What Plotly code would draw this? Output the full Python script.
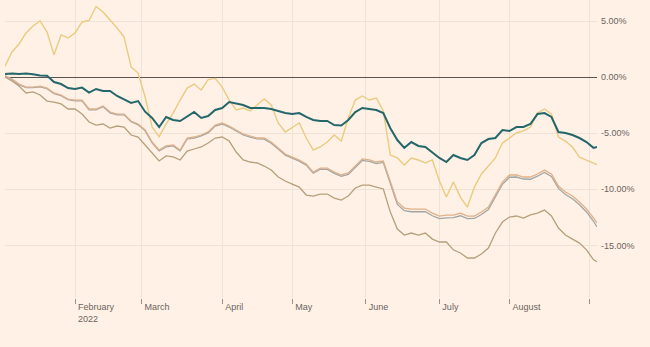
import pandas as pd
import plotly.graph_objects as go

# US market holidays in the period (closed days, removed from the time axis)
HOLIDAYS = ["2022-01-17", "2022-02-21", "2022-04-15", "2022-05-30",
            "2022-06-20", "2022-07-04", "2022-09-05"]

trading_days = pd.bdate_range("2022-01-03", "2022-09-06", freq="C", holidays=HOLIDAYS)
# every second session plus the final one
dates = list(trading_days[::2]) + [trading_days[-1]]

# cumulative performance, %
teal = [0.29, 0.34, 0.29, 0.34, 0.27, 0.16, 0.13, -0.42, -0.6, -0.96,
        -1.05, -0.92, -1.36, -1.04, -1.22, -1.22, -1.67, -1.98, -2.29, -2.12,
        -3.07, -3.63, -4.44, -3.54, -3.81, -3.9, -3.46, -3.1, -3.63, -3.46,
        -2.92, -2.74, -2.21, -2.34, -2.47, -2.74, -2.74, -2.74, -2.83, -3.01,
        -3.19, -3.28, -3.19, -3.54, -3.81, -3.9, -3.9, -4.26, -4.3, -3.81,
        -3.1, -2.74, -2.83, -2.92, -3.19, -4.55, -5.6, -6.3, -5.78, -6.13,
        -6.22, -6.67, -7.2, -7.56, -6.94, -7.2, -7.38, -6.94, -5.87, -5.51,
        -5.42, -4.71, -4.8, -4.44, -4.44, -4.17, -3.28, -3.19, -3.54, -4.88,
        -4.97, -5.15, -5.42, -5.78, -6.3, -6.22]

gold = [1.0, 2.26, 2.97, 3.96, 4.58, 5.03, 4.04, 2.01, 3.78, 3.51,
        3.96, 4.94, 5.07, 6.32, 5.83, 5.12, 4.4, 3.6, 0.92, 0.38,
        -1.76, -4.44, -5.3, -4.17, -3.19, -2.03, -0.96, -0.6, -1.13, -0.2,
        -0.1, -0.87, -2.03, -2.92, -2.74, -3.0, -2.47, -1.94, -2.47, -4.08,
        -4.88, -4.44, -4.08, -5.42, -6.49, -6.22, -5.78, -5.15, -5.69, -3.63,
        -2.03, -1.67, -2.03, -1.85, -3.0, -6.94, -7.2, -7.83, -7.2, -7.38,
        -7.65, -7.38, -9.26, -10.69, -9.35, -10.69, -11.58, -9.8, -8.63, -7.92,
        -7.2, -5.87, -5.42, -4.97, -4.79, -4.44, -3.19, -2.83, -3.28, -5.33,
        -5.69, -6.22, -7.12, -7.38, -7.7, -7.8]

mid_orange = [0.16, -0.15, -0.6, -0.87, -0.87, -0.78, -0.96, -1.4, -1.58, -1.94,
              -2.03, -2.03, -2.83, -2.83, -2.56, -3.1, -3.28, -3.28, -3.9, -4.17,
              -4.7, -5.78, -6.49, -6.13, -6.04, -6.49, -5.42, -5.33, -5.15, -4.88,
              -4.26, -4.08, -4.35, -4.7, -5.06, -5.24, -5.42, -5.42, -5.78, -6.31,
              -6.85, -7.12, -7.38, -7.74, -8.46, -8.1, -8.1, -8.46, -8.72, -8.54,
              -7.92, -7.29, -7.38, -7.56, -7.47, -9.35, -11.13, -11.67, -11.76, -11.76,
              -11.76, -12.12, -12.39, -12.3, -12.3, -12.12, -12.39, -12.39, -12.03, -11.58,
              -10.42, -9.35, -8.72, -8.72, -8.9, -8.9, -8.63, -8.28, -8.63, -9.7,
              -10.24, -10.6, -11.13, -11.76, -12.56, -13.0]

mid_grey = [0.1, -0.2, -0.65, -0.92, -0.93, -0.85, -1.02, -1.47, -1.64, -2.0,
            -2.1, -2.1, -2.9, -2.9, -2.63, -3.17, -3.35, -3.35, -3.97, -4.24,
            -4.78, -5.86, -6.58, -6.22, -6.12, -6.57, -5.5, -5.42, -5.23, -4.96,
            -4.35, -4.17, -4.44, -4.78, -5.15, -5.33, -5.5, -5.52, -5.88, -6.4,
            -6.95, -7.22, -7.48, -7.84, -8.56, -8.2, -8.22, -8.58, -8.84, -8.66,
            -8.04, -7.42, -7.5, -7.7, -7.6, -9.55, -11.35, -11.9, -12.0, -12.0,
            -12.0, -12.36, -12.62, -12.55, -12.52, -12.36, -12.62, -12.6, -12.25, -11.8,
            -10.62, -9.55, -8.92, -8.9, -9.08, -9.1, -8.83, -8.5, -8.85, -9.92,
            -10.46, -10.84, -11.38, -12.02, -12.85, -13.35]

lower = [0.03, -0.33, -0.78, -1.4, -1.31, -1.58, -2.12, -2.21, -2.38, -2.83,
         -2.83, -3.28, -3.99, -4.26, -4.17, -4.53, -4.35, -4.44, -5.15, -5.33,
         -6.04, -6.76, -7.47, -7.02, -7.1, -7.38, -6.58, -6.4, -6.22, -5.87,
         -5.42, -5.33, -5.69, -6.67, -7.38, -7.56, -7.65, -7.92, -8.28, -8.9,
         -9.26, -9.53, -9.8, -10.51, -10.6, -10.42, -10.42, -10.78, -10.96, -10.6,
         -9.88, -9.62, -9.62, -9.8, -9.97, -12.03, -13.54, -14.08, -13.9, -14.08,
         -13.9, -14.44, -14.7, -14.7, -15.4, -15.68, -16.13, -16.13, -15.78, -15.24,
         -13.9, -12.92, -12.47, -12.38, -12.56, -12.29, -12.12, -11.85, -12.38, -13.45,
         -14.08, -14.44, -14.8, -15.4, -16.29, -16.47]

y_ticks = [5, 0, -5, -10, -15]
y_tick_text = ["5.00%", "0.00%", "-5.00%", "-10.00%", "-15.00%"]
x_ticks = ["2022-02-01", "2022-03-01", "2022-04-01", "2022-05-02",
           "2022-06-01", "2022-07-01", "2022-08-01", "2022-09-01"]
x_tick_text = ["February<br>2022", "March", "April", "May",
               "June", "July", "August", ""]

BG = "#fff1e5"
GRID = "#efe2d6"
FONT = "Liberation Sans, Arial, sans-serif"
NBSP = "\u00a0"

# small gap between each tick mark and its label
x_labels = ["<br>".join(NBSP + part if part else part for part in t.split("<br>"))
            for t in x_tick_text]

series = [
    (lower, "#b6a07b", 1.3),
    (mid_grey, "#a0a6a6", 1.3),
    (mid_orange, "#e0b089", 1.3),
    (gold, "#eacb80", 1.4),
    (teal, "#24676b", 2.0),
]

fig = go.Figure()
for values, color, width in series:
    fig.add_trace(go.Scatter(
        x=dates, y=values, mode="lines",
        line=dict(color=color, width=width),
        hoverinfo="skip", showlegend=False,
    ))

fig.update_layout(
    width=650, height=347, autosize=False,
    margin=dict(l=5, r=53, t=0, b=49),
    paper_bgcolor=BG, plot_bgcolor=BG,
    font=dict(family=FONT, size=9, color="#6b6460"),
)
fig.update_xaxes(
    type="date",
    range=[trading_days[0], trading_days[-1]],
    rangebreaks=[dict(bounds=["sat", "mon"]), dict(values=HOLIDAYS)],
    tickvals=x_ticks, ticktext=x_labels,
    ticks="outside", ticklen=5, tickcolor="#9a918a", tickwidth=1,
    ticklabelposition="outside right",
    showgrid=True, gridcolor=GRID, gridwidth=1,
    showline=False, zeroline=False,
    tickfont=dict(family=FONT, size=9, color="#6b6460"),
)
fig.update_yaxes(
    side="right",
    range=[-19.7, 6.9],
    tickvals=y_ticks, ticktext=y_tick_text,
    ticks="", ticklabelstandoff=3,
    showgrid=True, gridcolor=GRID, gridwidth=1,
    zeroline=True, zerolinecolor="#5b534e", zerolinewidth=1.3,
    showline=False,
    tickfont=dict(family=FONT, size=9, color="#6b6460"),
)

fig.write_html("out.html")
